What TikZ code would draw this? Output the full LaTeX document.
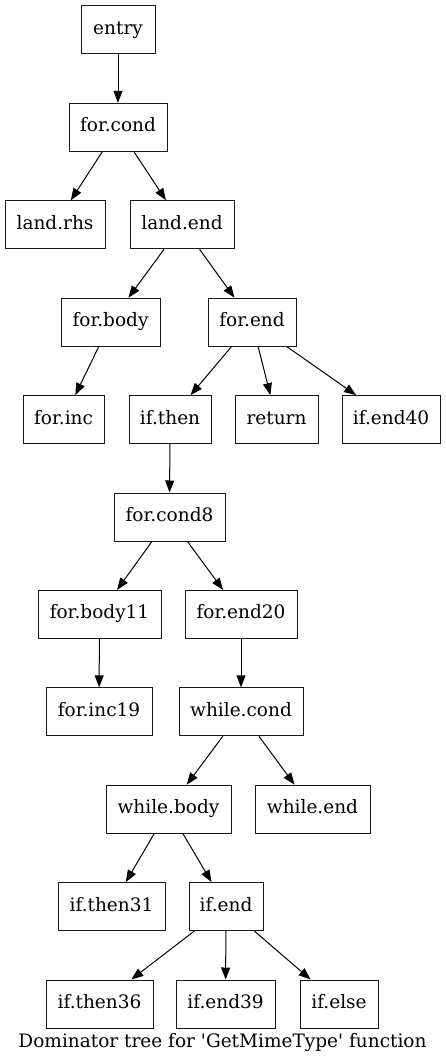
\documentclass[tikz,border=0pt]{standalone}
\usepackage{fontspec}
\setmainfont{DejaVu Serif}
\newfontfamily\plainserif{DejaVu Serif}
\usetikzlibrary{arrows.meta}
\begin{document}
\begin{tikzpicture}[x=1pt,y=-1pt,
  blk/.style={draw=black!90, line width=1pt, minimum height=48pt, inner sep=0pt, text height=13pt, text depth=4pt, font=\plainserif\fontsize{18.5}{22}\selectfont},
  edge/.style={draw=black, line width=1pt, -{Triangle[length=12pt,width=9pt]}}]
\useasboundingbox (0,0) rectangle (446,1064);
\node[blk, minimum width=74pt]  (entry)    at (118,30)    {entry};
\node[blk, minimum width=98pt]  (forcond)  at (118,127.4) {for.cond};
\node[blk, minimum width=100pt] (landrhs)  at (55,224.8)  {land.rhs};
\node[blk, minimum width=104pt] (landend)  at (182,224.8) {land.end};
\node[blk, minimum width=99pt]  (forbody)  at (110.5,322.2) {for.body};
\node[blk, minimum width=88pt]  (forend)   at (252,322.2) {for.end};
\node[blk, minimum width=81pt]  (forinc)   at (63.5,419.6) {for.inc};
\node[blk, minimum width=82pt]  (ifthen)   at (170,419.6) {if.then};
\node[blk, minimum width=83pt]  (return)   at (276.5,419.6) {return};
\node[blk, minimum width=98pt]  (ifend40)  at (391,419.6) {if.end40};
\node[blk, minimum width=111pt] (forcond8) at (169.5,517) {for.cond8};
\node[blk, minimum width=123pt] (forbody11) at (99.5,614.4) {for.body11};
\node[blk, minimum width=112pt] (forend20) at (241,614.4) {for.end20};
\node[blk, minimum width=106pt] (forinc19) at (99,711.8) {for.inc19};
\node[blk, minimum width=124pt] (whilecond) at (241,711.8) {while.cond};
\node[blk, minimum width=125pt] (whilebody) at (168.5,809.2) {while.body};
\node[blk, minimum width=115pt] (whileend) at (312.5,809.2) {while.end};
\node[blk, minimum width=107pt] (ifthen31) at (111.5,906.6) {if.then31};
\node[blk, minimum width=74pt]  (ifend)    at (226,906.6) {if.end};
\node[blk, minimum width=107pt] (ifthen36) at (99.5,1004) {if.then36};
\node[blk, minimum width=99pt]  (ifend39)  at (225.5,1004) {if.end39};
\node[blk, minimum width=78pt]  (ifelse)   at (339,1004) {if.else};
\node[font=\plainserif\fontsize{18.5}{22}\selectfont, inner sep=0pt, text height=13pt, text depth=4pt] (caption) at (222.5,1043) {Dominator tree for 'GetMimeType' function};
\draw[edge] (entry) -- (forcond);
\draw[edge] (forcond) -- (landrhs);
\draw[edge] (forcond) -- (landend);
\draw[edge] (landend) -- (forbody);
\draw[edge] (landend) -- (forend);
\draw[edge] (forbody) -- (forinc);
\draw[edge] (forend) -- (ifthen);
\draw[edge] (forend) -- (return);
\draw[edge] (forend) -- (ifend40);
\draw[edge] (ifthen) -- (forcond8);
\draw[edge] (forcond8) -- (forbody11);
\draw[edge] (forcond8) -- (forend20);
\draw[edge] (forbody11) -- (forinc19);
\draw[edge] (forend20) -- (whilecond);
\draw[edge] (whilecond) -- (whilebody);
\draw[edge] (whilecond) -- (whileend);
\draw[edge] (whilebody) -- (ifthen31);
\draw[edge] (whilebody) -- (ifend);
\draw[edge] (ifend) -- (ifthen36);
\draw[edge] (ifend) -- (ifend39);
\draw[edge] (ifend) -- (ifelse);
\end{tikzpicture}
\end{document}
